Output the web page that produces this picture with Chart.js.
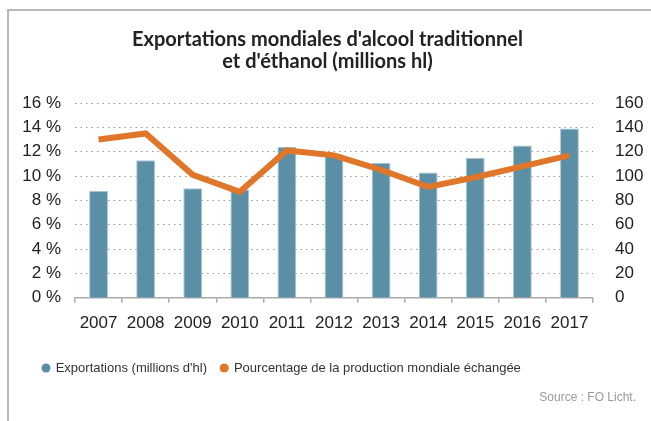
<!DOCTYPE html>
<html>
<head>
<meta charset="utf-8">
<script src="https://cdn.jsdelivr.net/npm/chart.js@4/dist/chart.umd.min.js"></script>
<style>
  html, body { margin: 0; padding: 0; background: #fff; }
  #wrap { position: relative; width: 651px; height: 421px; }
  #frame { position: absolute; left: 7px; top: 9px; right: -2px; bottom: -2px; border-top: 2px solid #b8b8b8; border-left: 2px solid #b8b8b8; pointer-events: none; }
  #title { position: absolute; left: 0; width: 655px; top: 27px; text-align: center; font: bold 20px/22px Lato, sans-serif; color: #222; }
  #source { position: absolute; right: 15px; top: 390px; font: 12px "Liberation Sans", Arial, sans-serif; color: #9a9a9a; }
</style>
</head>
<body>
<div id="wrap">
  <canvas id="chart" width="651" height="421"></canvas>
  <div id="frame"></div>
  <div id="title">Exportations mondiales d'alcool traditionnel<br>et d'éthanol (millions hl)</div>
  <div id="source">Source : FO Licht.</div>
</div>
<script>
  // Data
  const years = ['2007', '2008', '2009', '2010', '2011', '2012', '2013', '2014', '2015', '2016', '2017'];
  const exportations = [88, 113, 90, 89, 124, 118, 111, 103, 115, 125, 139]; // millions d'hl (right axis)
  const pourcentage = [13.0, 13.5, 10.1, 8.7, 12.1, 11.7, 10.5, 9.1, 9.9, 10.8, 11.7]; // % (left axis)

  const tickFont = { family: '"Liberation Sans", Arial, sans-serif', size: 17 };
  const padLeft = 20;
  const padRight = 8;

  // nudge the legend to the right without moving the axes
  const legendShift = {
    id: 'legendShift',
    afterLayout: function (c) {
      if (c.legend) { c.legend.left += 8.8; c.legend.right += 8.8; }
    }
  };

  const ctx = document.getElementById('chart').getContext('2d');
  const chart = new Chart(ctx, {
    data: {
      labels: years,
      datasets: [{
        type: 'line',
        label: 'Pourcentage de la production mondiale échangée',
        data: pourcentage,
        yAxisID: 'yLeft',
        borderColor: '#e07629',
        backgroundColor: '#e07629',
        borderWidth: 6,
        pointRadius: 0,
        pointBorderWidth: 0,
        tension: 0,
        order: 0
      }, {
        type: 'bar',
        label: 'Exportations (millions d\'hl)',
        data: exportations,
        yAxisID: 'yRight',
        backgroundColor: '#5b8fa6',
        borderColor: '#a9c5d2',
        borderWidth: 1,
        borderSkipped: 'bottom',
        barPercentage: 0.4,
        categoryPercentage: 1,
        order: 1
      }]
    },
    options: {
      responsive: false,
      animation: false,
      layout: { padding: { left: padLeft, right: padRight, top: 103, bottom: 36.5 } },
      scales: {
        x: {
          grid: { display: true, drawOnChartArea: false, drawTicks: true, tickLength: 5, color: '#aaa', lineWidth: 1.5 },
          border: { display: true, color: '#aaa', width: 1.5 },
          ticks: { font: tickFont, color: '#222', padding: 10 },
          afterFit: function (scale) { scale.height += 4.3; }
        },
        yLeft: {
          position: 'left',
          min: 0, max: 16,
          ticks: { stepSize: 2, font: tickFont, color: '#222', padding: 14, callback: v => v + ' %' },
          grid: { color: '#999', lineWidth: 1, drawTicks: false },
          border: { display: false, dash: [1.5, 4] },
          afterFit: function (scale) { scale.width = 75 - padLeft; }
        },
        yRight: {
          position: 'right',
          min: 0, max: 160,
          ticks: { stepSize: 20, font: tickFont, color: '#222', padding: 14 },
          grid: { display: false },
          border: { display: false },
          afterFit: function (scale) { scale.width = 651 - padRight - 593; }
        }
      },
      plugins: {
        title: { display: false },
        legend: {
          position: 'bottom',
          align: 'start',
          reverse: true,
          labels: {
            usePointStyle: true,
            pointStyle: 'circle',
            boxWidth: 6.4,
            boxHeight: 6.4,
            padding: 14,
            color: '#333',
            font: { family: '"Liberation Sans", Arial, sans-serif', size: 13 },
            generateLabels: function (c) {
              const items = Chart.defaults.plugins.legend.labels.generateLabels(c);
              items.forEach(item => { item.lineWidth = 0; item.strokeStyle = item.fillStyle; });
              return items;
            }
          }
        },
        tooltip: { enabled: false }
      }
    },
    plugins: [legendShift]
  });
</script>
</body>
</html>
